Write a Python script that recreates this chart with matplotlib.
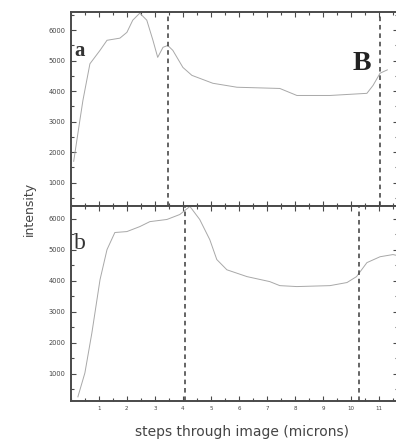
import numpy as np
import matplotlib
matplotlib.use("Agg")
import matplotlib.pyplot as plt
from matplotlib.ticker import MultipleLocator

# profile a: intensity along the first scan line
steps_a = [0.1, 0.32, 0.43, 0.68, 1.04, 1.29, 1.75, 2.0, 2.21, 2.46, 2.71, 2.93,
           3.1, 3.29, 3.46, 3.64, 4.0, 4.32, 5.07, 5.93, 7.46, 8.07, 9.25,
           10.57, 10.79, 11.04, 11.3]
intensity_a = [1700, 3040, 3700, 4900, 5340, 5670, 5740, 5930, 6330, 6560, 6330, 5670,
               5110, 5440, 5500, 5340, 4780, 4520, 4260, 4130, 4090, 3860, 3860,
               3930, 4190, 4590, 4700]

# profile b: intensity along the second scan line
steps_b = [0.25, 0.5, 0.75, 1.04, 1.29, 1.57, 2.0, 2.46, 2.82, 3.43, 3.89, 4.25,
           4.6, 4.96, 5.21, 5.57, 6.29, 7.1, 7.46, 8.07, 9.25, 9.86, 10.2,
           10.57, 11.04, 11.5, 11.7]
intensity_b = [260, 1030, 2320, 4030, 5000, 5550, 5580, 5740, 5900, 5970, 6130, 6390,
               5970, 5320, 4680, 4350, 4130, 3970, 3840, 3810, 3840, 3940, 4130,
               4580, 4770, 4840, 4800]

# boundaries marked on each profile
bounds_a = [3.46, 11.04]
bounds_b = [4.07, 10.3]

ytick_vals = [1000, 2000, 3000, 4000, 5000, 6000]
xtick_vals = [1, 2, 3, 4, 5, 6, 7, 8, 9, 10, 11]

fig = plt.figure(figsize=(3.96, 4.42), dpi=100)
ax1 = fig.add_axes([0.179, 0.535, 0.826, 0.438])
ax2 = fig.add_axes([0.179, 0.093, 0.826, 0.440])

frame = "#4a4a4a"
for ax, xs, ys, bnds, ylim in [(ax1, steps_a, intensity_a, bounds_a, (250, 6600)),
                               (ax2, steps_b, intensity_b, bounds_b, (130, 6390))]:
    ax.plot(xs, ys, color="#a8a8a8", lw=0.7)
    for b in bnds:
        ax.axvline(b, color="#3a3a3a", lw=1.1, ls=(0, (3, 2.5)))
    ax.set_xlim(0, 11.68)
    ax.set_ylim(*ylim)
    ax.set_yticks(ytick_vals)
    ax.set_xticks(xtick_vals)
    ax.yaxis.set_minor_locator(MultipleLocator(500))
    ax.xaxis.set_minor_locator(MultipleLocator(0.5))
    ax.tick_params(which="both", direction="in", top=True, right=True,
                   color=frame, width=0.8)
    ax.tick_params(which="major", length=3.5, labelcolor="#444444")
    ax.tick_params(axis="y", which="major", labelsize=4.8, pad=4)
    ax.tick_params(axis="x", which="major", labelsize=4, pad=4)
    ax.tick_params(which="minor", length=2)
    for s in ax.spines.values():
        s.set_color(frame)
        s.set_linewidth(1.4)

ax1.tick_params(labelbottom=False)

ax1.text(0.012, 0.77, "a", transform=ax1.transAxes, family="Liberation Serif",
         fontsize=15, fontweight="bold", color="#333333")
ax1.text(0.862, 0.70, "B", transform=ax1.transAxes, family="Liberation Serif",
         fontsize=20, fontweight="bold", color="#222222")
ax2.text(0.008, 0.78, "b", transform=ax2.transAxes, family="Liberation Serif",
         fontsize=17, color="#333333")

fig.text(0.073, 0.527, "intensity", rotation=90, ha="center", va="center",
         fontsize=9, color="#444444")
fig.text(0.611, 0.023, "steps through image (microns)", ha="center", va="center",
         fontsize=10, color="#444444")

fig.savefig("out.png", dpi=100)
